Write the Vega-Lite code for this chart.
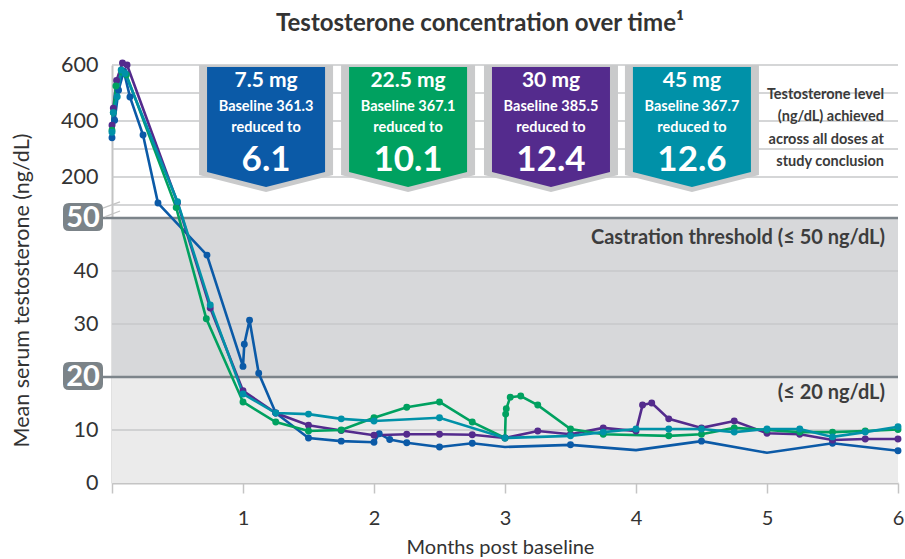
{
  "$schema": "https://vega.github.io/schema/vega-lite/v6.json",
  "width": 786,
  "height": 418,
  "autosize": {"type": "none"},
  "padding": {"left": 112, "top": 65, "right": 7, "bottom": 76},
  "background": "white",
  "config": {
    "font": "Lato",
    "view": {"stroke": null},
    "axis": {"grid": false}
  },
  "title": {
    "text": "Testosterone concentration over time¹",
    "fontSize": 24,
    "fontWeight": "bold",
    "color": "#333333",
    "anchor": "middle",
    "dx": -25,
    "offset": 18
  },
  "datasets": {
    "one": [{}],
    "bands": [
      {"lo": 0, "hi": 20, "zone": "below 20"},
      {"lo": 20, "hi": 50, "zone": "20 to 50"}
    ],
    "grid": [
      {"g": 10}, {"g": 30}, {"g": 40}, {"g": 100}, {"g": 200},
      {"g": 300}, {"g": 400}, {"g": 500}, {"g": 600}
    ],
    "thresholds": [
      {"t": 20, "label": "20"},
      {"t": 50, "label": "50"}
    ],
    "callouts": [
      {"dose": "7.5 mg", "at": 1.176, "baseline": "Baseline 361.3", "final": "6.1"},
      {"dose": "22.5 mg", "at": 2.26, "baseline": "Baseline 367.1", "final": "10.1"},
      {"dose": "30 mg", "at": 3.351, "baseline": "Baseline 385.5", "final": "12.4"},
      {"dose": "45 mg", "at": 4.427, "baseline": "Baseline 367.7", "final": "12.6"}
    ],
    "series": [
      {"dose": "7.5 mg", "t": 0, "v": 340},
      {"dose": "7.5 mg", "t": 0.02, "v": 403},
      {"dose": "7.5 mg", "t": 0.05, "v": 510},
      {"dose": "7.5 mg", "t": 0.09, "v": 578},
      {"dose": "7.5 mg", "t": 0.137, "v": 486},
      {"dose": "7.5 mg", "t": 0.237, "v": 350},
      {"dose": "7.5 mg", "t": 0.351, "v": 107},
      {"dose": "7.5 mg", "t": 0.725, "v": 43},
      {"dose": "7.5 mg", "t": 1.0, "v": 22},
      {"dose": "7.5 mg", "t": 1.01, "v": 26.2},
      {"dose": "7.5 mg", "t": 1.05, "v": 30.7},
      {"dose": "7.5 mg", "t": 1.12, "v": 20.7},
      {"dose": "7.5 mg", "t": 1.25, "v": 13.2},
      {"dose": "7.5 mg", "t": 1.5, "v": 8.5},
      {"dose": "7.5 mg", "t": 1.75, "v": 7.9},
      {"dose": "7.5 mg", "t": 2.0, "v": 7.7},
      {"dose": "7.5 mg", "t": 2.04, "v": 9.3},
      {"dose": "7.5 mg", "t": 2.12, "v": 8.2},
      {"dose": "7.5 mg", "t": 2.25, "v": 7.6},
      {"dose": "7.5 mg", "t": 2.5, "v": 6.8},
      {"dose": "7.5 mg", "t": 2.75, "v": 7.5},
      {"dose": "7.5 mg", "t": 3.0, "v": 6.8, "marker": false},
      {"dose": "7.5 mg", "t": 3.5, "v": 7.2},
      {"dose": "7.5 mg", "t": 4.0, "v": 6.2, "marker": false},
      {"dose": "7.5 mg", "t": 4.5, "v": 7.9},
      {"dose": "7.5 mg", "t": 5.0, "v": 5.7, "marker": false},
      {"dose": "7.5 mg", "t": 5.5, "v": 7.5},
      {"dose": "7.5 mg", "t": 6.0, "v": 6.1},

      {"dose": "30 mg", "t": 0, "v": 385},
      {"dose": "30 mg", "t": 0.01, "v": 446},
      {"dose": "30 mg", "t": 0.035, "v": 545},
      {"dose": "30 mg", "t": 0.08, "v": 607},
      {"dose": "30 mg", "t": 0.115, "v": 600},
      {"dose": "30 mg", "t": 0.5, "v": 108},
      {"dose": "30 mg", "t": 0.75, "v": 33},
      {"dose": "30 mg", "t": 1.0, "v": 17.4},
      {"dose": "30 mg", "t": 1.25, "v": 13.2},
      {"dose": "30 mg", "t": 1.5, "v": 10.9},
      {"dose": "30 mg", "t": 1.75, "v": 9.9},
      {"dose": "30 mg", "t": 2.0, "v": 9.0},
      {"dose": "30 mg", "t": 2.25, "v": 9.2},
      {"dose": "30 mg", "t": 2.5, "v": 9.2},
      {"dose": "30 mg", "t": 2.75, "v": 9.1},
      {"dose": "30 mg", "t": 3.0, "v": 8.5},
      {"dose": "30 mg", "t": 3.25, "v": 9.8},
      {"dose": "30 mg", "t": 3.5, "v": 9.2},
      {"dose": "30 mg", "t": 3.75, "v": 10.4},
      {"dose": "30 mg", "t": 4.0, "v": 9.8},
      {"dose": "30 mg", "t": 4.05, "v": 14.7},
      {"dose": "30 mg", "t": 4.12, "v": 15.1},
      {"dose": "30 mg", "t": 4.25, "v": 12.1},
      {"dose": "30 mg", "t": 4.5, "v": 10.4},
      {"dose": "30 mg", "t": 4.75, "v": 11.7},
      {"dose": "30 mg", "t": 5.0, "v": 9.4},
      {"dose": "30 mg", "t": 5.25, "v": 9.2},
      {"dose": "30 mg", "t": 5.5, "v": 8.1},
      {"dose": "30 mg", "t": 5.75, "v": 8.3},
      {"dose": "30 mg", "t": 6.0, "v": 8.3},

      {"dose": "22.5 mg", "t": 0, "v": 367},
      {"dose": "22.5 mg", "t": 0.01, "v": 430},
      {"dose": "22.5 mg", "t": 0.03, "v": 525},
      {"dose": "22.5 mg", "t": 0.075, "v": 575},
      {"dose": "22.5 mg", "t": 0.11, "v": 565},
      {"dose": "22.5 mg", "t": 0.49, "v": 90},
      {"dose": "22.5 mg", "t": 0.72, "v": 31},
      {"dose": "22.5 mg", "t": 1.0, "v": 15.3},
      {"dose": "22.5 mg", "t": 1.25, "v": 11.5},
      {"dose": "22.5 mg", "t": 1.5, "v": 9.8},
      {"dose": "22.5 mg", "t": 1.75, "v": 10.0},
      {"dose": "22.5 mg", "t": 2.0, "v": 12.3},
      {"dose": "22.5 mg", "t": 2.25, "v": 14.3},
      {"dose": "22.5 mg", "t": 2.5, "v": 15.3},
      {"dose": "22.5 mg", "t": 2.75, "v": 11.5},
      {"dose": "22.5 mg", "t": 3.0, "v": 8.5},
      {"dose": "22.5 mg", "t": 3.005, "v": 13.0},
      {"dose": "22.5 mg", "t": 3.01, "v": 14.0},
      {"dose": "22.5 mg", "t": 3.04, "v": 16.2},
      {"dose": "22.5 mg", "t": 3.12, "v": 16.4},
      {"dose": "22.5 mg", "t": 3.25, "v": 14.7},
      {"dose": "22.5 mg", "t": 3.5, "v": 10.2},
      {"dose": "22.5 mg", "t": 3.75, "v": 9.2},
      {"dose": "22.5 mg", "t": 4.25, "v": 8.9},
      {"dose": "22.5 mg", "t": 4.5, "v": 9.2},
      {"dose": "22.5 mg", "t": 4.75, "v": 10.4},
      {"dose": "22.5 mg", "t": 5.0, "v": 10.0},
      {"dose": "22.5 mg", "t": 5.25, "v": 9.6},
      {"dose": "22.5 mg", "t": 5.5, "v": 9.6},
      {"dose": "22.5 mg", "t": 5.75, "v": 9.8},
      {"dose": "22.5 mg", "t": 6.0, "v": 10.1},

      {"dose": "45 mg", "t": 0, "v": 360},
      {"dose": "45 mg", "t": 0.01, "v": 430},
      {"dose": "45 mg", "t": 0.04, "v": 487},
      {"dose": "45 mg", "t": 0.07, "v": 582},
      {"dose": "45 mg", "t": 0.1, "v": 570},
      {"dose": "45 mg", "t": 0.5, "v": 112},
      {"dose": "45 mg", "t": 0.75, "v": 33.6},
      {"dose": "45 mg", "t": 1.0, "v": 16.8},
      {"dose": "45 mg", "t": 1.25, "v": 13.2},
      {"dose": "45 mg", "t": 1.5, "v": 13.0},
      {"dose": "45 mg", "t": 1.75, "v": 12.1},
      {"dose": "45 mg", "t": 2.0, "v": 11.7},
      {"dose": "45 mg", "t": 2.5, "v": 12.3},
      {"dose": "45 mg", "t": 3.0, "v": 8.5},
      {"dose": "45 mg", "t": 3.5, "v": 8.9},
      {"dose": "45 mg", "t": 3.75, "v": 9.6},
      {"dose": "45 mg", "t": 4.0, "v": 10.2},
      {"dose": "45 mg", "t": 4.25, "v": 10.2},
      {"dose": "45 mg", "t": 4.5, "v": 10.2},
      {"dose": "45 mg", "t": 4.75, "v": 9.6},
      {"dose": "45 mg", "t": 5.0, "v": 10.2},
      {"dose": "45 mg", "t": 5.25, "v": 10.2},
      {"dose": "45 mg", "t": 5.5, "v": 8.7},
      {"dose": "45 mg", "t": 5.75, "v": 9.6},
      {"dose": "45 mg", "t": 6.0, "v": 10.6}
    ]
  },
  "layer": [
    {
      "data": {"name": "bands"},
      "mark": {"type": "rect"},
      "encoding": {
        "x": {
          "datum": 0, "type": "quantitative",
          "scale": {"domain": [0, 6], "nice": false, "zero": false},
          "axis": {
            "values": [0, 1, 2, 3, 4, 5, 6],
            "format": "d",
            "labelExpr": "datum.value == 0 ? '' : datum.label",
            "title": "Months post baseline",
            "titleFontSize": 20, "titleFontWeight": "normal", "titleColor": "#333333",
            "titleX": 388, "titleY": 64, "titleBaseline": "middle",
            "labelFontSize": 20, "labelColor": "#333333", "labelPadding": 15, "labelFlush": false,
            "tickSize": 10, "tickColor": "#c4c4c4", "tickWidth": 1.5,
            "domainColor": "#c4c4c4", "domainWidth": 2, "grid": false
          }
        },
        "x2": {"datum": 6},
        "y": {
          "field": "lo", "type": "quantitative",
          "scale": {"domain": [0, 50, 100, 600], "range": [418, 153, 140, 0], "nice": false, "zero": false},
          "axis": {
            "values": [0, 10, 30, 40, 200, 400, 600],
            "title": "Mean serum testosterone (ng/dL)",
            "titleFontSize": 21.5, "titleFontWeight": "normal", "titleColor": "#333333",
            "titleX": -90, "titleY": 225, "titleAlign": "center", "titleBaseline": "middle", "titleAngle": -90,
            "labelFontSize": 21.5, "labelColor": "#333333", "labelPadding": 14,
            "ticks": false, "domainColor": "#c4c4c4", "domainWidth": 2, "grid": false
          }
        },
        "y2": {"field": "hi"},
        "fill": {
          "field": "zone", "type": "nominal",
          "scale": {"domain": ["below 20", "20 to 50"], "range": ["#ebebeb", "#d7d8da"]},
          "legend": null
        }
      }
    },
    {
      "data": {"name": "grid"},
      "mark": {"type": "rule", "color": "#c7c8ca", "strokeWidth": 1.5},
      "encoding": {
        "x": {"datum": 0, "type": "quantitative"},
        "x2": {"datum": 6},
        "y": {"field": "g", "type": "quantitative"}
      }
    },
    {
      "data": {"name": "thresholds"},
      "mark": {"type": "rule", "color": "#7c848a", "strokeWidth": 2.5},
      "encoding": {
        "x": {"datum": -0.09, "type": "quantitative"},
        "x2": {"datum": 6},
        "y": {"field": "t", "type": "quantitative"}
      }
    },
    {
      "data": {"name": "one"},
      "mark": {"type": "rule", "color": "#c4c4c4", "strokeWidth": 1.3},
      "encoding": {
        "x": {"datum": -0.07, "type": "quantitative"},
        "x2": {"datum": 0.061},
        "y": {"datum": 88, "type": "quantitative"},
        "y2": {"datum": 111}
      }
    },
    {
      "data": {"name": "one"},
      "mark": {"type": "rule", "color": "#c4c4c4", "strokeWidth": 1.3},
      "encoding": {
        "x": {"datum": -0.055, "type": "quantitative"},
        "x2": {"datum": 0.061},
        "y": {"datum": 54, "type": "quantitative"},
        "y2": {"datum": 77}
      }
    },
    {
      "data": {"name": "thresholds"},
      "mark": {
        "type": "point",
        "shape": "M-14,-14L14,-14Q20,-14 20,-8L20,8Q20,14 14,14L-14,14Q-20,14 -20,8L-20,-8Q-20,-14 -14,-14Z",
        "size": 4, "filled": true, "opacity": 1, "color": "#7b8388", "xOffset": -29, "yOffset": -1
      },
      "encoding": {
        "x": {"datum": 0, "type": "quantitative"},
        "y": {"field": "t", "type": "quantitative"}
      }
    },
    {
      "data": {"name": "thresholds"},
      "mark": {"type": "text", "color": "white", "fontSize": 29, "fontWeight": "bold", "align": "center", "baseline": "middle", "dx": -29, "dy": 0},
      "encoding": {
        "x": {"datum": 0, "type": "quantitative"},
        "y": {"field": "t", "type": "quantitative"},
        "text": {"field": "label"}
      }
    },
    {
      "data": {"name": "series"},
      "mark": {"type": "line", "strokeWidth": 2.6},
      "encoding": {
        "x": {"field": "t", "type": "quantitative"},
        "y": {"field": "v", "type": "quantitative"},
        "color": {
          "field": "dose", "type": "nominal",
          "scale": {"domain": ["7.5 mg", "22.5 mg", "30 mg", "45 mg"], "range": ["#0b5aa7", "#00a160", "#542b8d", "#0091a8"]},
          "legend": null
        }
      }
    },
    {
      "data": {"name": "series"},
      "transform": [{"filter": "datum.marker !== false"}],
      "mark": {"type": "point", "filled": true, "size": 48, "opacity": 1},
      "encoding": {
        "x": {"field": "t", "type": "quantitative"},
        "y": {"field": "v", "type": "quantitative"},
        "color": {"field": "dose", "type": "nominal", "legend": null}
      }
    },
    {
      "data": {"name": "callouts"},
      "mark": {"type": "point", "shape": "M-67,0L67,0L67,110L0,127L-67,110Z", "size": 4, "filled": true, "opacity": 1, "color": "#c9cacb"},
      "encoding": {
        "x": {"field": "at", "type": "quantitative"},
        "y": {"datum": 600, "type": "quantitative"}
      }
    },
    {
      "data": {"name": "callouts"},
      "mark": {"type": "point", "shape": "M-59,2L59,2L59,107L0,122L-59,107Z", "size": 4, "filled": true, "opacity": 1},
      "encoding": {
        "x": {"field": "at", "type": "quantitative"},
        "y": {"datum": 600, "type": "quantitative"},
        "color": {"field": "dose", "type": "nominal", "legend": null}
      }
    },
    {
      "data": {"name": "callouts"},
      "mark": {"type": "text", "color": "white", "fontSize": 21, "fontWeight": "bold", "align": "center", "baseline": "middle", "dy": 16},
      "encoding": {
        "x": {"field": "at", "type": "quantitative"},
        "y": {"datum": 600, "type": "quantitative"},
        "text": {"field": "dose"}
      }
    },
    {
      "data": {"name": "callouts"},
      "mark": {"type": "text", "color": "white", "fontSize": 14.5, "fontWeight": "bold", "align": "center", "baseline": "middle", "dy": 42},
      "encoding": {
        "x": {"field": "at", "type": "quantitative"},
        "y": {"datum": 600, "type": "quantitative"},
        "text": {"field": "baseline"}
      }
    },
    {
      "data": {"name": "callouts"},
      "mark": {"type": "text", "color": "white", "fontSize": 14.5, "fontWeight": "bold", "align": "center", "baseline": "middle", "dy": 63, "text": "reduced to"},
      "encoding": {
        "x": {"field": "at", "type": "quantitative"},
        "y": {"datum": 600, "type": "quantitative"}
      }
    },
    {
      "data": {"name": "callouts"},
      "mark": {"type": "text", "color": "white", "fontSize": 35, "fontWeight": "bold", "align": "center", "baseline": "middle", "dy": 95},
      "encoding": {
        "x": {"field": "at", "type": "quantitative"},
        "y": {"datum": 600, "type": "quantitative"},
        "text": {"field": "final"}
      }
    },
    {
      "data": {"name": "one"},
      "mark": {
        "type": "text", "color": "#3a3a3a", "fontSize": 14.5, "fontWeight": "bold", "align": "right", "baseline": "middle",
        "dx": -14, "dy": 30, "lineHeight": 22.3,
        "text": ["Testosterone level", "(ng/dL) achieved", "across all doses at", "study conclusion"]
      },
      "encoding": {
        "x": {"datum": 6, "type": "quantitative"},
        "y": {"datum": 600, "type": "quantitative"}
      }
    },
    {
      "data": {"name": "one"},
      "mark": {"type": "text", "color": "#3d3d3d", "fontSize": 20, "fontWeight": "bold", "align": "right", "baseline": "middle", "dx": -13, "dy": 20, "text": "Castration threshold (≤ 50 ng/dL)"},
      "encoding": {
        "x": {"datum": 6, "type": "quantitative"},
        "y": {"datum": 50, "type": "quantitative"}
      }
    },
    {
      "data": {"name": "one"},
      "mark": {"type": "text", "color": "#3d3d3d", "fontSize": 20, "fontWeight": "bold", "align": "right", "baseline": "middle", "dx": -13, "dy": 16, "text": "(≤ 20 ng/dL)"},
      "encoding": {
        "x": {"datum": 6, "type": "quantitative"},
        "y": {"datum": 20, "type": "quantitative"}
      }
    }
  ]
}
